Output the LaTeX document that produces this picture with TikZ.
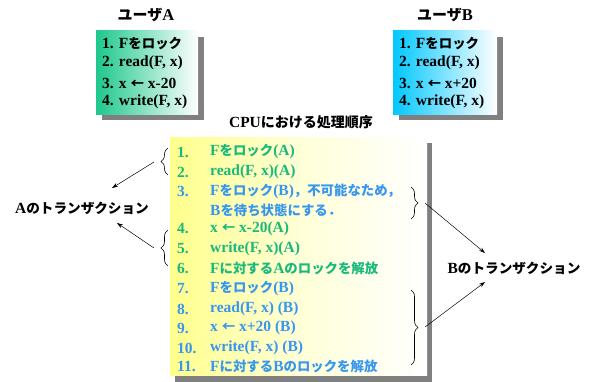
\documentclass[tikz,border=0pt]{standalone}
\usepackage{fontspec}
\setmainfont{Liberation Serif}
\newfontfamily\jpfont{Noto Sans CJK JP}
\usetikzlibrary{decorations.pathreplacing,arrows.meta}
\newcommand\J[1]{{\jpfont\fontsize{13.4}{15}\selectfont #1}}
\newcommand\JL[1]{{\jpfont\fontsize{13.6}{16}\selectfont #1}}
\newcommand\JC[1]{{\jpfont\fontsize{14}{16}\selectfont #1}}
\newcommand\JT[1]{{\jpfont\fontsize{15}{17}\selectfont #1}}
\definecolor{boxgreen}{RGB}{30,200,140}
\definecolor{boxblue}{RGB}{0,200,255}
\definecolor{boxyellow}{RGB}{255,255,140}
\definecolor{txtgreen}{RGB}{25,185,125}
\definecolor{txtblue}{RGB}{55,150,240}
\definecolor{shadowgray}{RGB}{128,128,128}
\tikzset{
  lbl/.style={inner sep=0pt, anchor=west},
  ttl/.style={inner sep=0pt},
  bracer/.style={decorate, decoration={brace, amplitude=7pt, aspect=0.5}, line width=0.6pt},
  pointer/.style={-{Stealth[length=6pt,width=4pt]}, line width=0.5pt},
}
\begin{document}
\begin{tikzpicture}[x=1pt,y=-1pt,font=\bfseries\fontsize{15.5}{18}\selectfont]
\useasboundingbox[fill=white] (0,0) rectangle (595,382);
% User A
\node[ttl] (ua) at (146,15) {\JT{ユーザ}{\fontsize{16.5}{18}\selectfont A}};
\fill[shadowgray] (102,37) rectangle (204,120);
\shade[left color=boxgreen, right color=white] (96,31) rectangle (198,115);
\node[lbl] (a1) at (102,44) {1. F\J{をロック}};
\node[lbl] (a2) at (102,63) {2. read(F, x)};
\node[lbl] (a3) at (102,83) {3. x \J{←} x-20};
\node[lbl] (a4) at (102,102) {4. write(F, x)};
% User B
\node[ttl] (ub) at (445,15) {\JT{ユーザ}{\fontsize{16.5}{18}\selectfont B}};
\fill[shadowgray] (399,37) rectangle (503,120);
\shade[left color=boxblue, right color=white] (393,31) rectangle (497,115);
\node[lbl] (b1) at (399,44) {1. F\J{をロック}};
\node[lbl] (b2) at (399,63) {2. read(F, x)};
\node[lbl] (b3) at (399,83) {3. x \J{←} x+20};
\node[lbl] (b4) at (399,102) {4. write(F, x)};
% CPU
\node[ttl] (cpu) at (301,122) {CPU\JC{における処理順序}};
\fill[shadowgray] (175,143) rectangle (432,382);
\shade[left color=boxyellow, right color=white, middle color=boxyellow!35!white] (170,138) rectangle (427,376);
\begin{scope}[every node/.style={lbl}]
\node[text=txtgreen] (n1) at (177,152) {1.};
\node[text=txtgreen] (l1) at (210,152) {F\J{をロック}(A)};
\node[text=txtgreen] (n2) at (177,172) {2.};
\node[text=txtgreen] (l2) at (210,172) {read(F, x)(A)};
\node[text=txtblue] (n3) at (177,191) {3.};
\node[text=txtblue] (l3) at (210,191) {F\J{をロック}(B)\J{，不可能なため，}};
\node[text=txtblue] (l3b) at (210,210) {B\J{を待ち状態にする．}};
\node[text=txtgreen] (n4) at (177,229) {4.};
\node[text=txtgreen] (l4) at (210,229) {x \J{←} x-20(A)};
\node[text=txtgreen] (n5) at (177,249) {5.};
\node[text=txtgreen] (l5) at (210,249) {write(F, x)(A)};
\node[text=txtgreen] (n6) at (177,268) {6.};
\node[text=txtgreen] (l6) at (210,268) {F\J{に対する}A\J{のロックを解放}};
\node[text=txtblue] (n7) at (177,289) {7.};
\node[text=txtblue] (l7) at (210,289) {F\J{をロック}(B)};
\node[text=txtblue] (n8) at (177,309) {8.};
\node[text=txtblue] (l8) at (210,309) {read(F, x) (B)};
\node[text=txtblue] (n9) at (177,328) {9.};
\node[text=txtblue] (l9) at (210,328) {x \J{←} x+20 (B)};
\node[text=txtblue] (n10) at (177,348) {10.};
\node[text=txtblue] (l10) at (210,348) {write(F, x) (B)};
\node[text=txtblue] (n11) at (177,366) {11.};
\node[text=txtblue] (l11) at (210,366) {F\J{に対する}B\J{のロックを解放}};
\end{scope}
% transaction labels
\node[ttl] (ta) at (82,208) {A\JL{のトランザクション}};
\node[ttl] (tb) at (514,268) {B\JL{のトランザクション}};
% braces
\draw[bracer] (168,175) -- (168,148);
\coordinate (tip1) at (154,162);
\draw[bracer] (168,266) -- (168,230);
\coordinate (tip2) at (154,248);
\draw[bracer] (411,187) -- (411,219);
\coordinate (tip3) at (425,203);
\draw[bracer] (411,290) -- (411,365);
\coordinate (tip4) at (425,327);
% arrows
\draw[pointer] (tip1) -- (112,188);
\draw[pointer] (tip2) -- (117,223);
\draw[pointer] (tip3) -- (485,253);
\draw[pointer] (tip4) -- (485,282);
\end{tikzpicture}
\end{document}
